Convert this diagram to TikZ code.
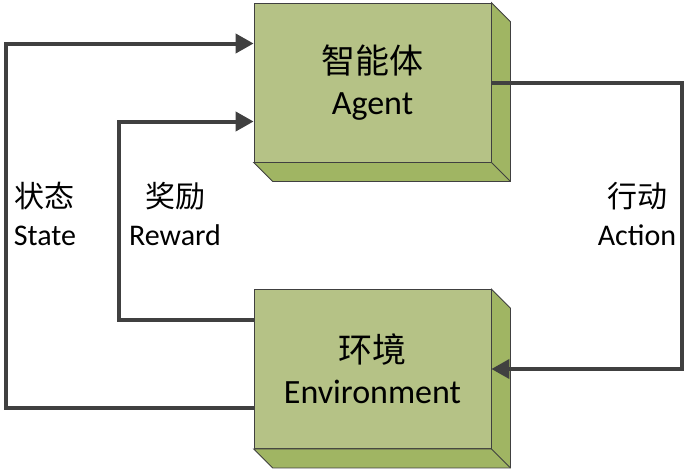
\documentclass[tikz,border=0pt]{standalone}
\usepackage{fontspec}
\setmainfont{Carlito}
\newfontfamily\cjk{Noto Sans CJK SC}
\usepackage{xcolor}
\usepackage{tikz}
\usetikzlibrary{arrows.meta, positioning, calc}

\definecolor{frontgreen}{RGB}{181,194,134}
\definecolor{sidegreen}{RGB}{160,181,99}
\definecolor{edgegray}{RGB}{64,64,64}
\definecolor{arrowgray}{RGB}{64,64,64}

\begin{document}
\begin{tikzpicture}[
    x=1pt, y=-1pt,
    block/.style={rectangle, draw=edgegray, line width=0.8pt, fill=frontgreen, minimum width=237pt, minimum height=159pt, align=center, font=\fontsize{34}{41}\selectfont},
    side/.style={draw=edgegray, line width=0.8pt, fill=sidegreen},
    lbl/.style={align=center, font=\fontsize{30}{38}\selectfont},
    arrow/.style={-{Triangle[length=18pt, width=19pt]}, line width=4pt, draw=arrowgray}
]
    \useasboundingbox (0,0) rectangle (689,472);

    \node (agent) [block] at (372.5,82.5) {{\cjk 智能体}\\Agent};
    \node (env) [block] at (372.5,369) {{\cjk 环境}\\Environment};

    % depth of the boxes
    \foreach \n in {agent,env} {
        \filldraw [side] (\n.north east) -- ++(19,19) |- ($(\n.south west)+(19pt,-19pt)$)
            -- (\n.south west) -- (\n.south east) -- cycle;
        \draw [side] (\n.south east) -- ++(19,19);
    }

    \node (state) [lbl] at (45,214) {{\cjk 状态}\\State};
    \node (reward) [lbl] at (175,214) {{\cjk 奖励}\\Reward};
    \node (action) [lbl] at (637,214) {{\cjk 行动}\\Action};

    \draw [arrow] ([yshift=-39pt]env.west) -- ++(-248,0) |- ([yshift=39pt]agent.west);
    \draw [arrow] ([yshift=49pt]env.west) -- ++(-135,0) |- ([yshift=-39pt]agent.west);
    \draw [arrow] (agent.east) -- ++(191,0) |- (env.east);
\end{tikzpicture}
\end{document}
